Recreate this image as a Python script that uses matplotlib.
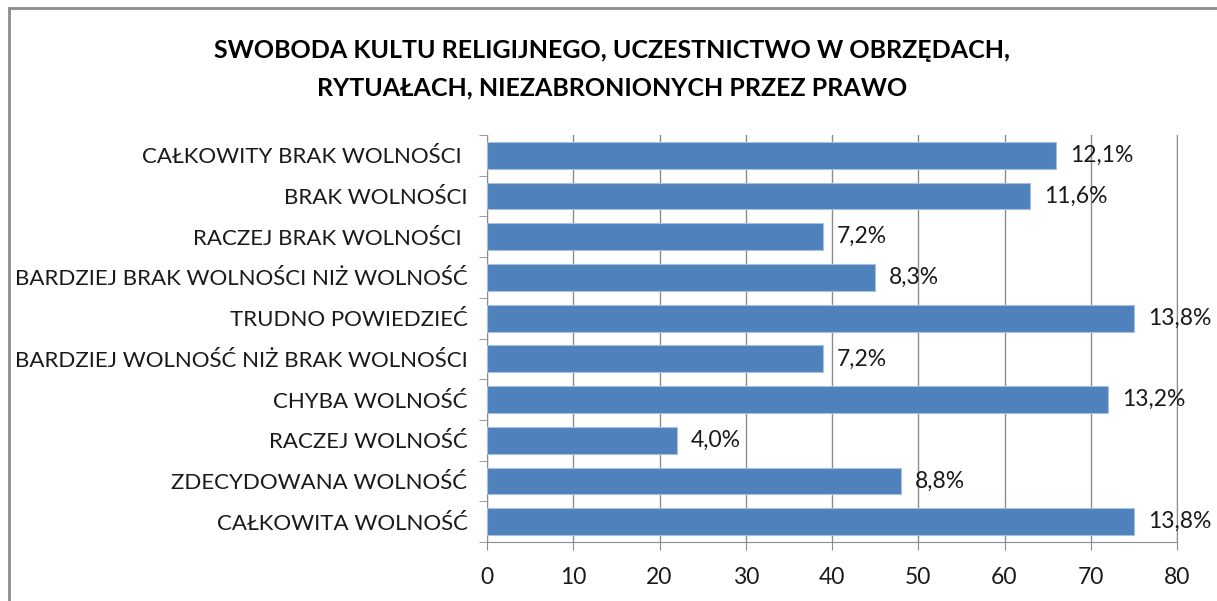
import matplotlib
matplotlib.use('Agg')
import matplotlib.pyplot as plt
from matplotlib.patches import Rectangle

plt.rcParams['font.family'] = ['Lato', 'DejaVu Sans']

categories = [
    'CAŁKOWITY BRAK WOLNOŚCI ',
    'BRAK WOLNOŚCI',
    'RACZEJ BRAK WOLNOŚCI ',
    'BARDZIEJ BRAK WOLNOŚCI NIŻ WOLNOŚĆ',
    'TRUDNO POWIEDZIEĆ',
    'BARDZIEJ WOLNOŚĆ NIŻ BRAK WOLNOŚCI',
    'CHYBA WOLNOŚĆ',
    'RACZEJ WOLNOŚĆ',
    'ZDECYDOWANA WOLNOŚĆ',
    'CAŁKOWITA WOLNOŚĆ',
]
counts = [66, 63, 39, 45, 75, 39, 72, 22, 48, 75]
percent_labels = ['12,1%', '11,6%', '7,2%', '8,3%', '13,8%',
                  '7,2%', '13,2%', '4,0%', '8,8%', '13,8%']
x_ticks = [0, 10, 20, 30, 40, 50, 60, 70, 80]
title_lines = ['SWOBODA KULTU RELIGIJNEGO, UCZESTNICTWO W OBRZĘDACH,',
               'RYTUAŁACH, NIEZABRONIONYCH PRZEZ PRAWO']

fig = plt.figure(figsize=(12.17, 6.01), dpi=100)
ax = fig.add_axes([487 / 1217, 1 - 542 / 601, 690 / 1217, 407 / 601])

# Outer chart frame
fig.patches.append(Rectangle((9 / 1217, -0.05), 1.2, 1 - 8 / 601 + 0.05,
                             transform=fig.transFigure, fill=False,
                             edgecolor='#8c8c8c', linewidth=2))

ypos = list(range(len(categories) - 1, -1, -1))
ax.barh(ypos, counts, height=0.66, color='#4f81bd',
        edgecolor='#a7c0de', linewidth=0.8, zorder=3)

for y, c, lab in zip(ypos, counts, percent_labels):
    ax.text(c + 1.6, y, lab, va='center', ha='left', fontsize=16.5,
            color='#1a1a1a', zorder=4)

ax.set_xlim(0, 80)
ax.set_ylim(-0.5, len(categories) - 0.5)
ax.set_xticks(x_ticks)
ax.set_yticks(ypos)
ax.set_yticklabels(categories, fontsize=16, color='#1a1a1a')
ax.tick_params(axis='y', length=0, pad=14)
ax.set_yticks([i - 0.5 for i in range(len(categories) + 1)], minor=True)
ax.tick_params(axis='y', which='minor', length=6, color='#8c8c8c', direction='out')
ax.tick_params(axis='x', length=6, color='#8c8c8c', labelsize=16.5,
               labelcolor='#1a1a1a', pad=12)

ax.grid(axis='x', color='#8c8c8c', linewidth=1, zorder=0)
ax.spines['top'].set_visible(False)
for s in ['left', 'bottom', 'right']:
    ax.spines[s].set_color('#8c8c8c')

fig.text(612 / 1217, 1 - 50 / 601, title_lines[0], ha='center', va='center',
         fontsize=18, fontweight='bold', color='black')
fig.text(612 / 1217, 1 - 88 / 601, title_lines[1], ha='center', va='center',
         fontsize=18, fontweight='bold', color='black')

fig.savefig('out.png', dpi=100)
